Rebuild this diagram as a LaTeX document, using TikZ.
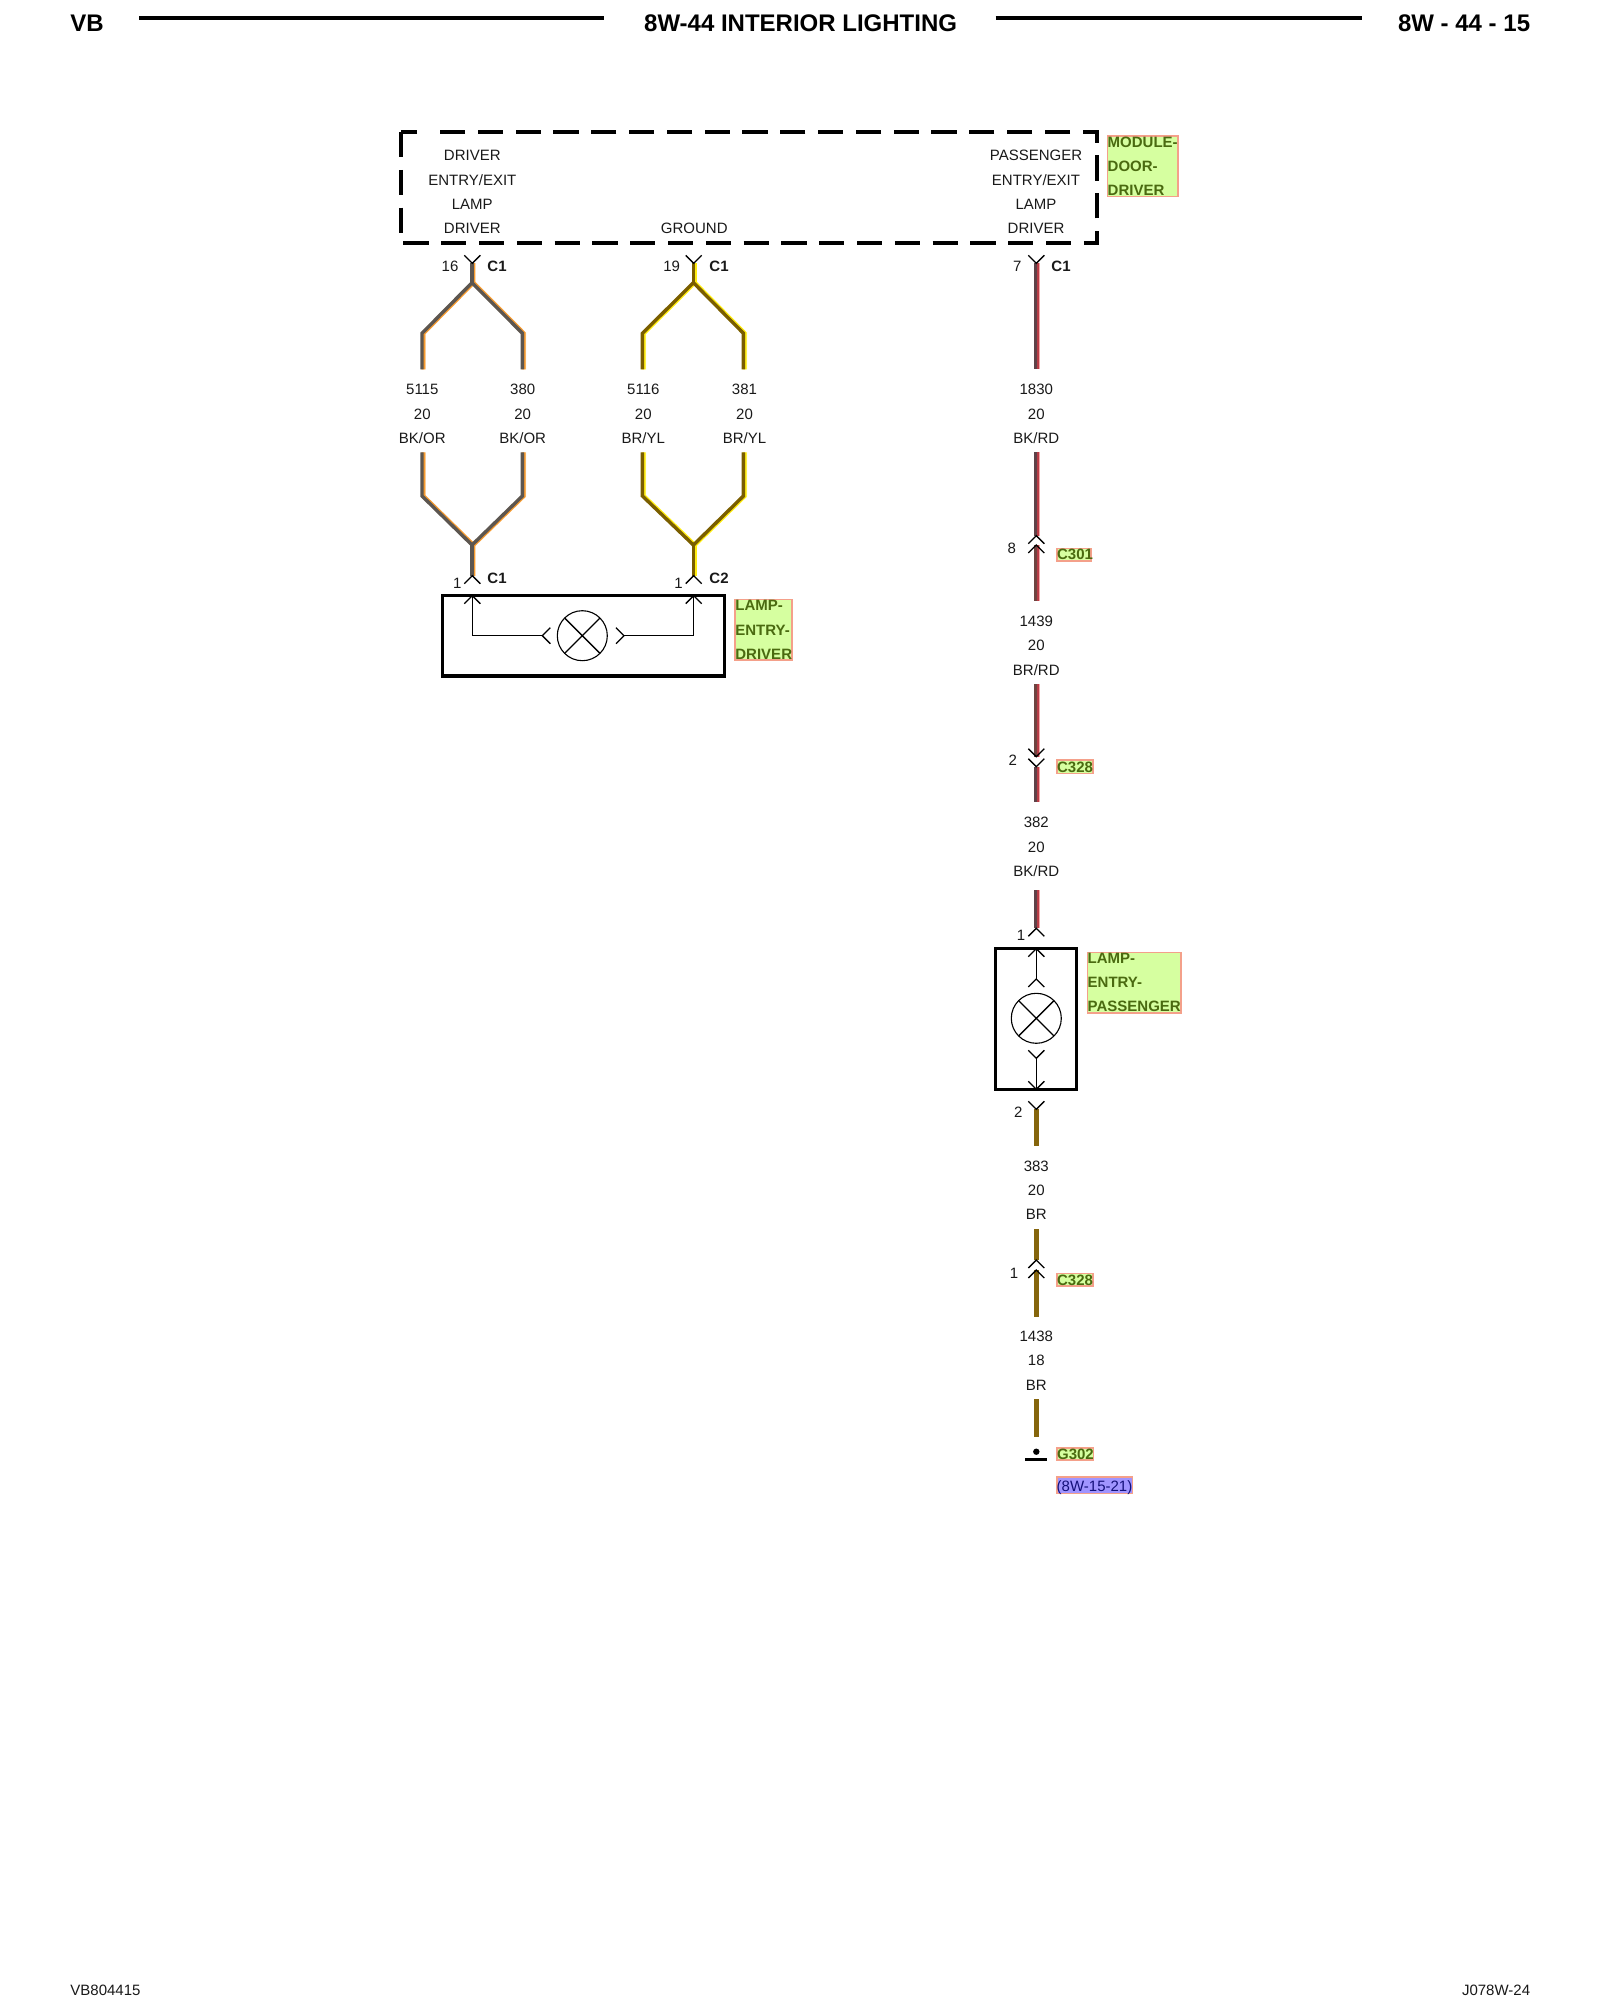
\documentclass[tikz,border=0pt]{standalone}
\usepackage{fontspec}
\setmainfont{Liberation Sans}
\definecolor{tagfill}{HTML}{D6FFA0}
\definecolor{tagline}{HTML}{F4A08A}
\definecolor{tagtext}{HTML}{4A6A10}
\definecolor{reffill}{HTML}{A094FF}
\definecolor{reftext}{HTML}{14107A}
\definecolor{bkgrey}{HTML}{5C5650}
\definecolor{orwire}{HTML}{F59A30}
\definecolor{orpale}{HTML}{FFDCB0}
\definecolor{brdark}{HTML}{7A5E00}
\definecolor{ylwire}{HTML}{FFEC10}
\definecolor{ylpale}{HTML}{FFFFA8}
\definecolor{rddark}{HTML}{5E4248}
\definecolor{brrddark}{HTML}{6E4440}
\definecolor{rdwire}{HTML}{B83C46}
\definecolor{rdpale}{HTML}{F4A8A8}
\definecolor{brsolid}{HTML}{85650C}
\tikzset{
  x=0.5pt,y=-0.5pt,
  lbl/.style={font=\fontsize{7.5}{9}\selectfont,inner sep=0pt,text=black!90,anchor=center,yshift=-0.4pt},
  conlbl/.style={lbl,font=\fontsize{7.5}{9}\selectfont\bfseries},
  hdr/.style={inner sep=0pt,font=\fontsize{12}{14}\selectfont\bfseries},
  tagbox/.style={draw=tagline,fill=tagfill,line width=0.8pt},
  tagword/.style={inner sep=0pt,anchor=west,text=tagtext,font=\fontsize{7.5}{9}\selectfont\bfseries},
  wireseg/.style={line join=miter,line cap=butt},
  solidwire/.style={line width=2.3pt,brsolid,line cap=butt},
  sym/.style={line width=0.65pt,black,line join=miter},
  compbox/.style={draw=black,line width=1.75pt},
  thinsym/.style={line width=0.55pt,black},
  pics/cup/.style={code={\draw[sym] (-8,8) -- (0,0) -- (8,8);}},
  pics/cdown/.style={code={\draw[sym] (-8,-8) -- (0,0) -- (8,-8);}},
  pics/lampx/.style={code={
    \draw[thinsym] (0,0) circle (12.5pt);
    \draw[sym] (-17.5,-17.5) -- (17.5,17.5) (-17.5,17.5) -- (17.5,-17.5);}},
}
\begin{document}
\begin{tikzpicture}
\useasboundingbox (0,0) rectangle (1600,2000);
% header
\coordinate (h1a) at (139,18.5); \coordinate (h1b) at (604,18.5);
\coordinate (h2a) at (995.6,18.5); \coordinate (h2b) at (1362,18.5);
\draw[line width=2pt] (h1a) -- (h1b);
\draw[line width=2pt] (h2a) -- (h2b);
\node[hdr,anchor=west] (hv) at (70,23) {VB};
\node[hdr] (ht) at (800.6,23) {8W-44 INTERIOR LIGHTING};
\node[hdr,anchor=east] (hp) at (1530.5,23) {8W - 44 - 15};
\node[lbl,anchor=west] (fl) at (70,1990) {VB804415};
\node[lbl,anchor=east] (fr) at (1530.5,1990) {J078W-24};
% module box
\coordinate (mA) at (401,132); \coordinate (mB) at (401,243); \coordinate (mC) at (1097,243);
\coordinate (mD) at (1097,132); \coordinate (mE) at (438,132); \coordinate (mF) at (417,132);
\draw[line width=1.75pt,dash pattern=on 12.6pt off 6.3pt,miter limit=10] (mA) -- (mB) -- (mC) -- (mD) -- (mE);
\draw[line width=1.75pt] (mF) -- (mA);
\foreach \n/\t/\y in {a/DRIVER/154.7,b/ENTRY\slash EXIT/179,c/LAMP/203.3,d/DRIVER/227.7}{
  \node[lbl] (ml\n) at (472.3,\y) {\t};}
\node[lbl] (mg) at (694.3,227.7) {GROUND};
\foreach \n/\t/\y in {a/PASSENGER/154.7,b/ENTRY\slash EXIT/179,c/LAMP/203.3,d/DRIVER/227.7}{
  \node[lbl] (mr\n) at (1036,\y) {\t};}
% tags
\draw[tagbox] (1107.3,136) rectangle (1178,196.7);
\node[tagword] (t1) at (1107.3,142.7) {MODULE-};
\node[tagword] (t2) at (1107.3,166.7) {DOOR-};
\node[tagword] (t3) at (1107.3,190.7) {DRIVER};
\draw[tagbox] (735,599.3) rectangle (791.7,660);
\node[tagword] (t4) at (735,605.7) {LAMP-};
\node[tagword] (t5) at (735,630) {ENTRY-};
\node[tagword] (t6) at (735,654.3) {DRIVER};
\draw[tagbox] (1087.3,952.3) rectangle (1181,1012.7);
\node[tagword] (t7) at (1087.3,958.3) {LAMP-};
\node[tagword] (t8) at (1087.3,982.7) {ENTRY-};
\node[tagword] (t9) at (1087.3,1006.7) {PASSENGER};
\draw[tagbox] (1056.7,548.3) rectangle (1091,560.7);
\node[tagword] (t10) at (1056.7,554.7) {C301};
\draw[tagbox] (1056.7,760) rectangle (1092.7,773.3);
\node[tagword] (t11) at (1056.7,767) {C328};
\draw[tagbox] (1056.7,1273.3) rectangle (1092.7,1286);
\node[tagword] (t12) at (1056.7,1280) {C328};
\draw[tagbox] (1056.7,1447.7) rectangle (1093.3,1460);
\node[tagword] (t13) at (1056.7,1454) {G302};
\draw[draw=tagline,fill=reffill,line width=0.8pt] (1056.7,1477) rectangle (1132.3,1493.3);
\node[inner sep=0pt,text=reftext,font=\fontsize{7.5}{9}\selectfont] (t15) at (1094.5,1487.5) {(8W-15-21)};
% wire coordinates: left pair
\coordinate (p1) at (422.3,369.3); \coordinate (p2) at (422.3,333.3); \coordinate (p3) at (472.3,282.7); \coordinate (p4) at (522.7,333.3); \coordinate (p5) at (522.7,369.3); \coordinate (p6) at (472.3,263.3);
\coordinate (q1) at (422.3,452.3); \coordinate (q2) at (422.3,496); \coordinate (q3) at (472.3,545); \coordinate (q4) at (522.7,496); \coordinate (q5) at (522.7,452.3); \coordinate (q6) at (472.3,575.7);
\foreach \s/\cw/\lw in {0.8pt/orpale/1.7pt,0.5pt/orwire/2pt,-0.15pt/bkgrey/1.7pt}{
  \draw[wireseg,\cw,line width=\lw] ([xshift=\s]p1) -- ([xshift=\s]p2) -- ([xshift=\s]p3) -- ([xshift=\s]p4) -- ([xshift=\s]p5);
  \draw[wireseg,\cw,line width=\lw] ([xshift=\s]p6) -- ([xshift=\s]p3);
  \draw[wireseg,\cw,line width=\lw] ([xshift=\s]q1) -- ([xshift=\s]q2) -- ([xshift=\s]q3) -- ([xshift=\s]q4) -- ([xshift=\s]q5);
  \draw[wireseg,\cw,line width=\lw] ([xshift=\s]q6) -- ([xshift=\s]q3);
}
% ground pair
\coordinate (r1) at (642.7,369.3); \coordinate (r2) at (642.7,333.3); \coordinate (r3) at (693.7,282.7); \coordinate (r4) at (743.7,333.3); \coordinate (r5) at (743.7,369.3); \coordinate (r6) at (693.7,263.3);
\coordinate (s1) at (642.7,452.3); \coordinate (s2) at (642.7,496); \coordinate (s3) at (693.7,545); \coordinate (s4) at (743.7,496); \coordinate (s5) at (743.7,452.3); \coordinate (s6) at (693.7,575.7);
\foreach \s/\cw/\lw in {0.8pt/ylpale/1.7pt,0.5pt/ylwire/2pt,-0.15pt/brdark/1.7pt}{
  \draw[wireseg,\cw,line width=\lw] ([xshift=\s]r1) -- ([xshift=\s]r2) -- ([xshift=\s]r3) -- ([xshift=\s]r4) -- ([xshift=\s]r5);
  \draw[wireseg,\cw,line width=\lw] ([xshift=\s]r6) -- ([xshift=\s]r3);
  \draw[wireseg,\cw,line width=\lw] ([xshift=\s]s1) -- ([xshift=\s]s2) -- ([xshift=\s]s3) -- ([xshift=\s]s4) -- ([xshift=\s]s5);
  \draw[wireseg,\cw,line width=\lw] ([xshift=\s]s6) -- ([xshift=\s]s3);
}
% right run
\coordinate (w1) at (1036.3,263.3); \coordinate (w2) at (1036.3,369.3);
\coordinate (w3) at (1036.3,452.3); \coordinate (w4) at (1036.3,535.7);
\coordinate (w5) at (1036.3,545); \coordinate (w6) at (1036.3,601);
\coordinate (w7) at (1036.3,684.3); \coordinate (w8) at (1036.3,756.7);
\coordinate (w9) at (1036.3,766.7); \coordinate (w10) at (1036.3,802.3);
\coordinate (w11) at (1036.3,890); \coordinate (w12) at (1036.3,928.3);
\coordinate (w13) at (1036.3,1109.3); \coordinate (w14) at (1036.3,1145.7);
\coordinate (w15) at (1036.3,1229); \coordinate (w16) at (1036.3,1260);
\coordinate (w17) at (1036.3,1270); \coordinate (w18) at (1036.3,1316.7);
\coordinate (w19) at (1036.3,1399.3); \coordinate (w20) at (1036.3,1437.3);
\foreach \a/\b/\cw in {w1/w2/rddark,w3/w4/rddark,w5/w6/brrddark,w7/w8/brrddark,w9/w10/rddark,w11/w12/rddark}{
  \draw[wireseg,rdpale,line width=2.9pt] ([xshift=0.3pt]\a) -- ([xshift=0.3pt]\b);
  \draw[wireseg,rdwire,line width=2.2pt] ([xshift=0.1pt]\a) -- ([xshift=0.1pt]\b);
  \draw[wireseg,\cw,line width=1.1pt] ([xshift=-0.4pt]\a) -- ([xshift=-0.4pt]\b);}
\foreach \a/\b in {w13/w14,w15/w16,w17/w18,w19/w20}{
  \draw[solidwire] (\a) -- (\b);}
% connector symbols
\foreach \c in {p6,r6,w1}{\pic at (\c) {cdown};}
\foreach \c in {q6,s6,w4,w5,w12,w16,w17}{\pic at (\c) {cup};}
\foreach \c in {w8,w9,w13}{\pic at (\c) {cdown};}
% connector labels
\node[lbl] (n16) at (450,265.7) {16};
\node[conlbl] (c16) at (497,265.7) {C1};
\node[lbl] (n19) at (671.7,265.7) {19};
\node[conlbl] (c19) at (719,265.7) {C1};
\node[lbl] (n7) at (1017.3,265.7) {7};
\node[conlbl] (c7) at (1061,265.7) {C1};
\node[lbl] (n1a) at (457.3,583) {1};
\node[conlbl] (c1a) at (497,578) {C1};
\node[lbl] (n1b) at (678.5,583) {1};
\node[conlbl] (c1b) at (719,578) {C2};
\node[lbl] (n8) at (1011.7,547.7) {8};
\node[lbl] (n2a) at (1012.7,759) {2};
\node[lbl] (n1c) at (1021,935) {1};
\node[lbl] (n2b) at (1018.3,1111.7) {2};
\node[lbl] (n1d) at (1014,1272.7) {1};
% wire labels
\foreach \n/\x/\ta/\tb/\tc in {a/422.3/5115/20/BK\slash OR,b/522.7/380/20/BK\slash OR,c/643.3/5116/20/BR\slash YL,d/744.5/381/20/BR\slash YL,e/1036.3/1830/20/BK\slash RD}{
  \node[lbl] (wa\n) at (\x,388.7) {\ta};
  \node[lbl] (wb\n) at (\x,414) {\tb};
  \node[lbl] (wc\n) at (\x,437.3) {\tc};}
\foreach \n/\ta/\tb/\tc/\ya/\yb/\yc in {f/1439/20/BR\slash RD/620.7/644.6/669,g/382/20/BK\slash RD/822/847/870,h/383/20/BR/1166/1189.5/1213.5,i/1438/18/BR/1335.7/1360/1385}{
  \node[lbl] (wa\n) at (1036.3,\ya) {\ta};
  \node[lbl] (wb\n) at (1036.3,\yb) {\tb};
  \node[lbl] (wc\n) at (1036.3,\yc) {\tc};}
% left lamp
\draw[compbox] (442.3,595.7) rectangle (724.3,676);
\coordinate (la) at (472.3,595.7); \coordinate (lb) at (472.3,635.7); \coordinate (lc) at (542.3,635.7);
\coordinate (ld) at (624,635.7); \coordinate (le) at (693.7,635.7); \coordinate (lf) at (693.7,595.7);
\coordinate (lamp1) at (582.3,635.7);
\draw[sym] (la) -- (lb) -- (lc);
\draw[sym] (ld) -- (le) -- (lf);
\pic at (la) {cup}; \pic at (lf) {cup};
\pic at (lamp1) {lampx};
\draw[sym] ([shift={(8,-8)}]lc) -- (lc) -- ([shift={(8,8)}]lc);
\draw[sym] ([shift={(-8,-8)}]ld) -- (ld) -- ([shift={(-8,8)}]ld);
% right lamp
\draw[compbox] (995.3,948.7) rectangle (1076.7,1089.3);
\coordinate (ra) at (1036.3,948.7); \coordinate (rb) at (1036.3,979); \coordinate (lamp2) at (1036.3,1018.3);
\coordinate (rc) at (1036.3,1058.3); \coordinate (rd) at (1036.3,1089.3);
\draw[sym] (ra) -- (rb);
\draw[sym] (rc) -- (rd);
\pic at (ra) {cup}; \pic at (rb) {cup};
\pic at (lamp2) {lampx};
\pic at (rc) {cdown}; \pic at (rd) {cdown};
% ground symbol
\coordinate (g1) at (1036.3,1451.7); \coordinate (g2) at (1025,1459.3); \coordinate (g3) at (1047.3,1459.3);
\fill (g1) circle (1.6pt);
\draw[line width=1.5pt] (g2) -- (g3);
\end{tikzpicture}
\end{document}
